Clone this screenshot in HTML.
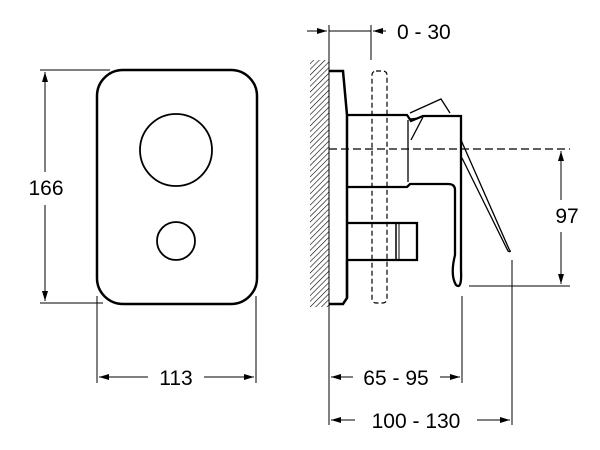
<!DOCTYPE html>
<html><head><style>body{margin:0;background:#fff}svg{display:block}</style></head><body>
<svg width="600" height="450" viewBox="0 0 600 450" xmlns="http://www.w3.org/2000/svg" font-family="Liberation Sans, sans-serif" font-size="21" fill="none" stroke="#000">
<defs>
<marker id="a" viewBox="0 0 10 6" refX="10" refY="3" markerWidth="10" markerHeight="6" orient="auto-start-reverse" markerUnits="userSpaceOnUse"><path d="M0,0L10,3L0,6z" fill="#000" stroke="none"/></marker>
<pattern id="h" width="4" height="4" patternUnits="userSpaceOnUse" patternTransform="rotate(45)"><line x1="0" y1="0" x2="0" y2="4" stroke="#000" stroke-width="1.2"/></pattern>
</defs>
<!-- left view -->
<rect x="97" y="70" width="160" height="234" rx="26" stroke-width="2.5"/>
<circle cx="176" cy="150" r="36" stroke-width="1.8"/>
<circle cx="176" cy="241" r="19" stroke-width="1.8"/>
<g stroke-width="1">
<line x1="40" y1="70" x2="110" y2="70"/>
<line x1="40" y1="303" x2="103" y2="303"/>
<line x1="45" y1="72" x2="45" y2="172" marker-start="url(#a)"/>
<line x1="45" y1="205" x2="45" y2="301" marker-end="url(#a)"/>
<line x1="97" y1="296" x2="97" y2="383"/>
<line x1="256" y1="296" x2="256" y2="383"/>
<line x1="99" y1="377" x2="148" y2="377" marker-start="url(#a)"/>
<line x1="204" y1="377" x2="254" y2="377" marker-end="url(#a)"/>
</g>
<text x="46" y="195" text-anchor="middle" fill="#000" stroke="none">166</text>
<text x="176" y="385" text-anchor="middle" fill="#000" stroke="none">113</text>
<!-- side view -->
<rect x="310" y="60" width="19" height="247" fill="url(#h)" stroke="none"/>
<line x1="329" y1="25" x2="329" y2="425" stroke-width="1"/>
<line x1="371" y1="25" x2="371" y2="60" stroke-width="1"/>
<line x1="307" y1="31" x2="327" y2="31" stroke-width="1" marker-end="url(#a)"/>
<line x1="329" y1="31" x2="371" y2="31" stroke-width="1"/>
<line x1="386" y1="31" x2="373" y2="31" stroke-width="1" marker-end="url(#a)"/>
<text x="397" y="39" fill="#000" stroke="none">0 - 30</text>
<rect x="372" y="71" width="15" height="232" rx="4" stroke-dasharray="5,3" stroke-width="1.2"/>
<line x1="329" y1="149" x2="570" y2="149" stroke-dasharray="8,4" stroke-width="1.2"/>
<path d="M329,71 L343,71 L347,115 L347,298 L343,304 L329,304" stroke-width="2.5"/>
<path d="M347,115 L407,115 L411,121 L423,116 L461,116 L461,270 Q462,290 456,285 Q450,275 455,255 L455,190 Q455,184 448,184 L410,184 L407,187 L347,187" stroke-width="2.3"/>
<line x1="408" y1="120" x2="408" y2="182" stroke-width="1.3"/>
<path d="M410,113 L441,99 L450,113" stroke-width="1.3"/>
<path d="M410,119 L419,118 M411,140 L423,117" stroke-width="1.3"/>
<path d="M461,140 L509,249 Q512,253 508,251 L462,158" stroke-width="1.3"/>
<path d="M347,223 L417,223 L417,260 L347,260" stroke-width="2.3"/>
<line x1="396" y1="223" x2="396" y2="260" stroke-width="1.5"/>
<line x1="399" y1="223" x2="399" y2="260" stroke-width="1"/>
<path d="M347,260 L347,298" stroke-width="2.3"/>
<g stroke-width="1">
<line x1="561" y1="151" x2="561" y2="200" marker-start="url(#a)"/>
<line x1="561" y1="232" x2="561" y2="284" marker-end="url(#a)"/>
<line x1="469" y1="286" x2="570" y2="286"/>
<line x1="512" y1="260" x2="512" y2="425"/>
<line x1="462" y1="296" x2="462" y2="383"/>
<line x1="331" y1="377" x2="353" y2="377" marker-start="url(#a)"/>
<line x1="440" y1="377" x2="460" y2="377" marker-end="url(#a)"/>
<line x1="331" y1="420" x2="355" y2="420" marker-start="url(#a)"/>
<line x1="477" y1="420" x2="510" y2="420" marker-end="url(#a)"/>
</g>
<text x="567" y="223" text-anchor="middle" fill="#000" stroke="none">97</text>
<text x="396" y="385" text-anchor="middle" fill="#000" stroke="none">65 - 95</text>
<text x="416" y="428" text-anchor="middle" fill="#000" stroke="none">100 - 130</text>
</svg>
</body></html>
